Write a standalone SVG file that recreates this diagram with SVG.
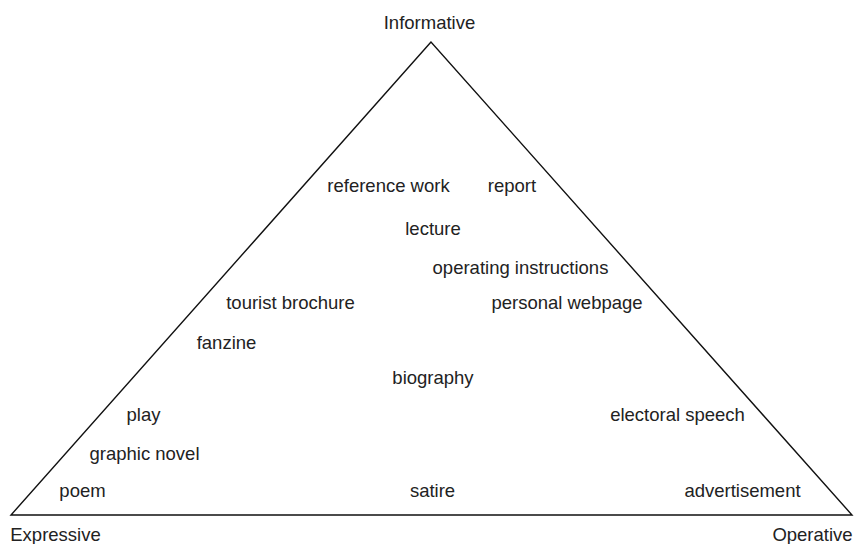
<svg xmlns="http://www.w3.org/2000/svg" width="856" height="544" viewBox="0 0 856 544">
<style>
text{font-family:"Liberation Sans",Arial,sans-serif;font-size:18.5px;fill:#222;text-anchor:middle}
.edge{fill:none;stroke:#111;stroke-width:1.4}
</style>
<rect width="856" height="544" fill="#fff"/>
<g id="connectors">
<polygon class="edge" points="431,42 11,515 852,515"/>
</g>
<g id="corner-informative"><text x="429.5" y="29">Informative</text></g>
<g id="corner-expressive"><text x="55.5" y="541">Expressive</text></g>
<g id="corner-operative"><text x="812.5" y="541">Operative</text></g>
<g id="reference-work"><text x="388.5" y="192">reference work</text></g>
<g id="report"><text x="512" y="192">report</text></g>
<g id="lecture"><text x="433" y="235">lecture</text></g>
<g id="operating-instructions"><text x="520.5" y="274">operating instructions</text></g>
<g id="tourist-brochure"><text x="290.5" y="309">tourist brochure</text></g>
<g id="personal-webpage"><text x="567" y="309">personal webpage</text></g>
<g id="fanzine"><text x="226.5" y="349">fanzine</text></g>
<g id="biography"><text x="433" y="384">biography</text></g>
<g id="play"><text x="143.5" y="421">play</text></g>
<g id="electoral-speech"><text x="677.5" y="421">electoral speech</text></g>
<g id="graphic-novel"><text x="144.5" y="460">graphic novel</text></g>
<g id="poem"><text x="82.5" y="497">poem</text></g>
<g id="satire"><text x="432.5" y="497">satire</text></g>
<g id="advertisement"><text x="742.5" y="497">advertisement</text></g>
</svg>
